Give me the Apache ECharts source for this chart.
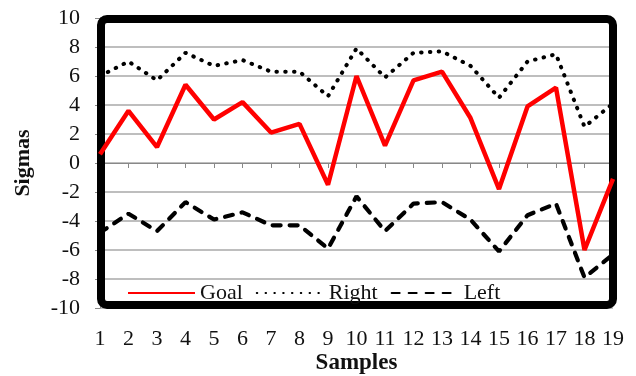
<!DOCTYPE html>
<html>
<head>
<meta charset="utf-8">
<script src="https://cdn.jsdelivr.net/npm/echarts@6/dist/echarts.min.js"></script>
<style>
  html, body { margin: 0; padding: 0; background: #fff; }
  #chart { width: 636px; height: 376px; }
</style>
</head>
<body>
<div id="chart"></div>
<script>
// Sample indices along the x axis
const samples = ['1','2','3','4','5','6','7','8','9','10','11','12','13','14','15','16','17','18','19'];

// Sigma values per sample
const goal  = [0.6, 3.6, 1.1, 5.4, 3.0, 4.2, 2.1, 2.7, -1.5, 6.0, 1.2, 5.7, 6.3, 3.1, -1.8, 3.9, 5.2, -6.0, -1.1];
const right = [6.0, 7.0, 5.7, 7.6, 6.7, 7.1, 6.3, 6.3, 4.6, 7.9, 5.9, 7.6, 7.7, 6.7, 4.5, 7.0, 7.5, 2.5, 4.1];
const left  = [-4.8, -3.5, -4.7, -2.7, -3.9, -3.4, -4.3, -4.3, -5.9, -2.3, -4.7, -2.8, -2.7, -3.9, -6.1, -3.6, -2.8, -7.9, -6.3];

// Y axis range and step
const yMin = -10, yMax = 10, yStep = 2;

const FONT = "'Liberation Serif', 'Times New Roman', serif";
const GRID = { left: 100, right: 23, top: 18, bottom: 68 };

const chart = echarts.init(document.getElementById('chart'), null, { renderer: 'canvas' });

const W = 636, H = 376;
const plot = {
  x: GRID.left, y: GRID.top,
  w: W - GRID.left - GRID.right, h: H - GRID.top - GRID.bottom
};

// line-only legend keys: symbols are hidden
const noSymbol = { color: 'rgba(0,0,0,0)', opacity: 0 };

chart.setOption({
  animation: false,
  backgroundColor: '#fff',
  textStyle: { fontFamily: FONT, color: '#111' },
  grid: Object.assign({ outerBoundsMode: 'none', containLabel: false }, GRID),
  legend: {
    left: 122,
    top: 277,
    itemWidth: 67,
    itemHeight: 14,
    itemGap: 13,
    itemStyle: noSymbol,
    textStyle: { fontFamily: FONT, fontSize: 22, color: '#111' },
    data: ['Goal', 'Right', 'Left']
  },
  xAxis: {
    type: 'category',
    data: samples,
    boundaryGap: false,
    name: 'Samples',
    nameLocation: 'middle',
    nameGap: 44,
    nameMoveOverlap: false,
    nameTextStyle: { fontFamily: FONT, fontSize: 23, fontWeight: 'bold', color: '#111' },
    axisLine: { show: true, lineStyle: { color: '#888', width: 1 } },
    axisTick: { show: true, length: 5, lineStyle: { color: '#888', width: 1 } },
    axisLabel: { fontFamily: FONT, fontSize: 22, color: '#111', margin: 20, interval: 0 },
    splitLine: { show: false }
  },
  yAxis: {
    type: 'value',
    min: yMin, max: yMax, interval: yStep,
    name: 'Sigmas',
    nameLocation: 'middle',
    nameGap: 66,
    nameMoveOverlap: false,
    nameTextStyle: { fontFamily: FONT, fontSize: 22, fontWeight: 'bold', color: '#111' },
    axisLine: { show: true, lineStyle: { color: '#888', width: 1 } },
    axisTick: { show: true, length: 5, lineStyle: { color: '#888', width: 1 } },
    axisLabel: { fontFamily: FONT, fontSize: 22, color: '#111', margin: 20 },
    splitLine: { show: true, lineStyle: { color: '#a8a8a8', width: 1.5 } }
  },
  graphic: [{
    // heavy rounded frame around the plotting area
    type: 'rect',
    z: 1,
    silent: true,
    shape: { x: plot.x + 1, y: plot.y + 1, width: plot.w - 1, height: plot.h - 4, r: 6 },
    style: { fill: null, stroke: '#000', lineWidth: 8 }
  }],
  series: [
    {
      name: 'Goal', type: 'line', data: goal, symbol: 'none', z: 5,
      lineStyle: { color: '#ff0000', width: 4.5 },
      itemStyle: noSymbol
    },
    {
      name: 'Right', type: 'line', data: right, symbol: 'none', z: 4,
      lineStyle: { color: '#000', width: 4, type: [0.5, 8.3], cap: 'round' },
      itemStyle: noSymbol
    },
    {
      name: 'Left', type: 'line', data: left, symbol: 'none', z: 4,
      lineStyle: { color: '#000', width: 4.2, type: [8, 9], cap: 'round' },
      itemStyle: noSymbol
    }
  ]
});
</script>
</body>
</html>
